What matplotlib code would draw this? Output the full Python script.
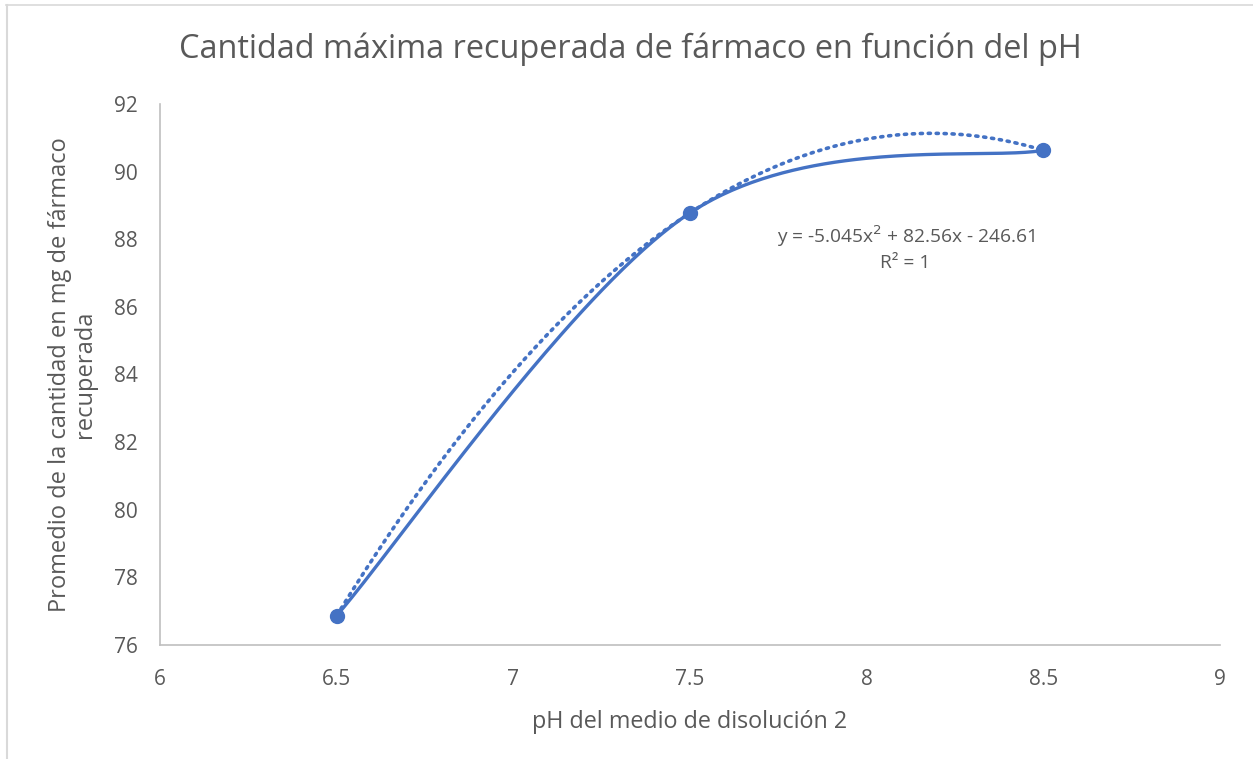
import numpy as np
import matplotlib.pyplot as plt
from matplotlib.lines import Line2D

plt.rcParams['font.family'] = ['Open Sans', 'DejaVu Sans']

# pH del medio y promedio recuperado (mg)
ph = [6.5, 7.5, 8.5]
recuperado = [76.87, 88.78, 90.63]

x_ticks = [6, 6.5, 7, 7.5, 8, 8.5, 9]
x_tick_labels = ['6', '6.5', '7', '7.5', '8', '8.5', '9']
y_ticks = [76, 78, 80, 82, 84, 86, 88, 90, 92]

AZUL = '#4472C4'
GRIS_TXT = '#595959'
GRIS_EJE = '#BFBFBF'


def curva_suavizada(xs, ys, n=80):
    """Curva suavizada tipo Catmull-Rom (Bezier cúbica entre puntos)."""
    pts = np.column_stack([xs, ys]).astype(float)
    out = []
    for i in range(len(pts) - 1):
        p0 = pts[max(i - 1, 0)]
        p1 = pts[i]
        p2 = pts[i + 1]
        p3 = pts[min(i + 2, len(pts) - 1)]
        c1 = p1 + (p2 - p0) / 6
        c2 = p2 - (p3 - p1) / 6
        t = np.linspace(0, 1, n)[:, None]
        seg = ((1 - t) ** 3 * p1 + 3 * (1 - t) ** 2 * t * c1
               + 3 * (1 - t) * t ** 2 * c2 + t ** 3 * p2)
        out.append(seg if i == 0 else seg[1:])
    seg = np.vstack(out)
    return seg[:, 0], seg[:, 1]


fig = plt.figure(figsize=(12.53, 7.59), dpi=100)
ax = fig.add_axes([0.1277, 0.1502, 0.8460, 0.7128])

# línea de tendencia polinómica de orden 2
coef = np.polyfit(ph, recuperado, 2)
xt = np.linspace(min(ph), max(ph), 200)
ax.plot(xt, np.polyval(coef, xt), color=AZUL, lw=2.6,
        linestyle=(0, (0.6, 1.6)), dash_capstyle='round', zorder=2)

sx, sy = curva_suavizada(ph, recuperado)
ax.plot(sx, sy, color=AZUL, lw=2.4, solid_capstyle='round', zorder=3)
ax.plot(ph, recuperado, 'o', color=AZUL, ms=10, zorder=4)

ax.text(8.11, 87.75,
        'y = -5.045x$^2$ + 82.56x - 246.61\nR² = 1',
        ha='center', va='center', fontsize=13.8, color=GRIS_TXT,
        linespacing=1.35)

ax.set_xlim(6, 9)
ax.set_ylim(76, 92)
ax.set_xticks(x_ticks)
ax.set_xticklabels(x_tick_labels)
ax.set_yticks(y_ticks)
ax.tick_params(length=0, labelsize=15, colors=GRIS_TXT, pad=17)
ax.tick_params(axis='y', pad=16)
for lado in ('top', 'right'):
    ax.spines[lado].set_visible(False)
for lado in ('left', 'bottom'):
    ax.spines[lado].set_color(GRIS_EJE)
    ax.spines[lado].set_linewidth(1.2)

ax.set_xlabel('pH del medio de disolución 2', fontsize=16.8,
              color=GRIS_TXT, labelpad=15)
ax.set_ylabel('Promedio de la cantidad en mg de fármaco\nrecuperada',
              fontsize=17, color=GRIS_TXT, labelpad=12, linespacing=1.05)
fig.text(0.503, 0.935, 'Cantidad máxima recuperada de fármaco en función del pH',
         ha='center', va='center', fontsize=23.4, color=GRIS_TXT)

# marco del área del gráfico (solo borde superior e izquierdo)
fig.add_artist(Line2D([6 / 1253, 1], [1 - 5 / 759, 1 - 5 / 759],
                      color='#D9D9D9', lw=1.2, transform=fig.transFigure))
fig.add_artist(Line2D([7 / 1253, 7 / 1253], [0, 1 - 5 / 759],
                      color='#D9D9D9', lw=1.5, transform=fig.transFigure))

fig.savefig('out.png', dpi=100)
